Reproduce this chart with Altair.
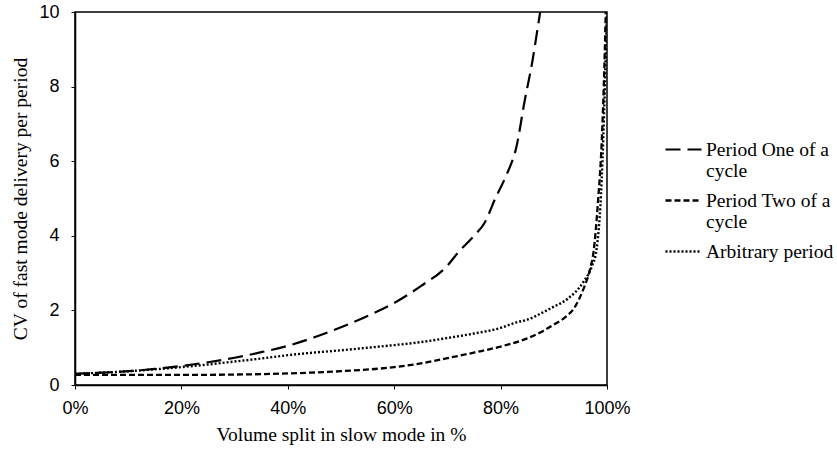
import altair as alt
import pandas as pd

series_names = ["Period One of a|cycle", "Period Two of a|cycle", "Arbitrary period"]

p1_x = [0, 5, 10, 15, 20, 25, 30, 35, 40, 45, 50, 55, 60, 65, 70, 72, 75, 77, 79, 81, 83, 84.5, 86, 87, 88]
p1_y = [0.30, 0.33, 0.37, 0.43, 0.51, 0.61, 0.73, 0.88, 1.05, 1.28, 1.55, 1.85, 2.2, 2.65, 3.2, 3.55, 4.0, 4.35, 5.0, 5.6, 6.4, 7.6, 8.7, 9.6, 10.5]

p2_x = [0, 10, 20, 30, 40, 50, 60, 65, 70, 75, 80, 85, 88, 90, 92, 94, 95.5, 96.8, 97.5, 98.3, 99, 99.5, 99.8]
p2_y = [0.27, 0.27, 0.27, 0.28, 0.31, 0.37, 0.48, 0.58, 0.72, 0.87, 1.03, 1.25, 1.45, 1.62, 1.8, 2.1, 2.55, 3.1, 3.6, 4.9, 6.5, 8.5, 10.2]

ar_x = [0, 5, 10, 15, 20, 25, 30, 35, 40, 45, 50, 55, 60, 65, 70, 75, 80, 83, 85, 88, 90, 92.5, 95.5, 97.2, 98, 99, 99.6, 100]
ar_y = [0.30, 0.33, 0.37, 0.42, 0.48, 0.55, 0.63, 0.71, 0.80, 0.87, 0.93, 1.0, 1.07, 1.15, 1.26, 1.38, 1.53, 1.68, 1.75, 1.95, 2.1, 2.3, 2.75, 3.2, 3.6, 5.5, 8.0, 10.2]

rows = []
for name, xs, ys in zip(series_names, [p1_x, p2_x, ar_x], [p1_y, p2_y, ar_y]):
    for i, (a, b) in enumerate(zip(xs, ys)):
        rows.append({"series": name, "x": a / 100.0, "y": b, "order": i})
df = pd.DataFrame(rows)

dash_range = [[15, 7], [6, 3], [2, 2]]
width_range = [2.2, 2.4, 1.6]

legend = alt.Legend(
    title=None,
    orient="none",
    legendX=589,
    legendY=118,
    symbolType="stroke",
    symbolSize=1296,
    symbolStrokeColor="black",
    labelFont="Liberation Serif",
    labelFontSize=19.5,
    labelColor="black",
    labelExpr="split(datum.label, '|')",
    labelOffset=3,
    rowPadding=0,
    labelLimit=300,
)

chart = alt.Chart(df).mark_line(color="black", clip=True, interpolate="monotone").encode(
    x=alt.X("x:Q", scale=alt.Scale(domain=[0, 1], nice=False),
            axis=alt.Axis(format="%", values=[0, 0.2, 0.4, 0.6, 0.8, 1.0], title="Volume split in slow mode in %")),
    y=alt.Y("y:Q", scale=alt.Scale(domain=[0, 10], nice=False),
            axis=alt.Axis(values=[0, 2, 4, 6, 8, 10], title="CV of fast mode delivery per period")),
    strokeDash=alt.StrokeDash("series:N", scale=alt.Scale(domain=series_names, range=dash_range), legend=legend),
    strokeWidth=alt.StrokeWidth("series:N", scale=alt.Scale(domain=series_names, range=width_range), legend=legend),
    detail="series:N",
    order="order:Q",
).properties(
    width=532,
    height=373,
    autosize=alt.AutoSizeParams(type="none"),
    padding={"left": 75, "top": 12, "right": 230, "bottom": 65},
).configure_view(
    stroke="black", strokeWidth=1.5
).configure_axis(
    grid=False,
    domainColor="black",
    domainWidth=1.5,
    tickColor="black",
    tickSize=4,
    tickWidth=1,
    labelFlush=False,
    labelFont="Liberation Sans",
    labelFontSize=18,
    labelColor="black",
    titleFont="Liberation Serif",
    titleFontSize=19.5,
    titleFontWeight="normal",
    titleColor="black",
).configure_axisX(
    labelPadding=10, titlePadding=8
).configure_axisY(
    labelPadding=12, titlePadding=8
)

chart.save("out.html", embed_options={"renderer": "svg", "actions": False})
